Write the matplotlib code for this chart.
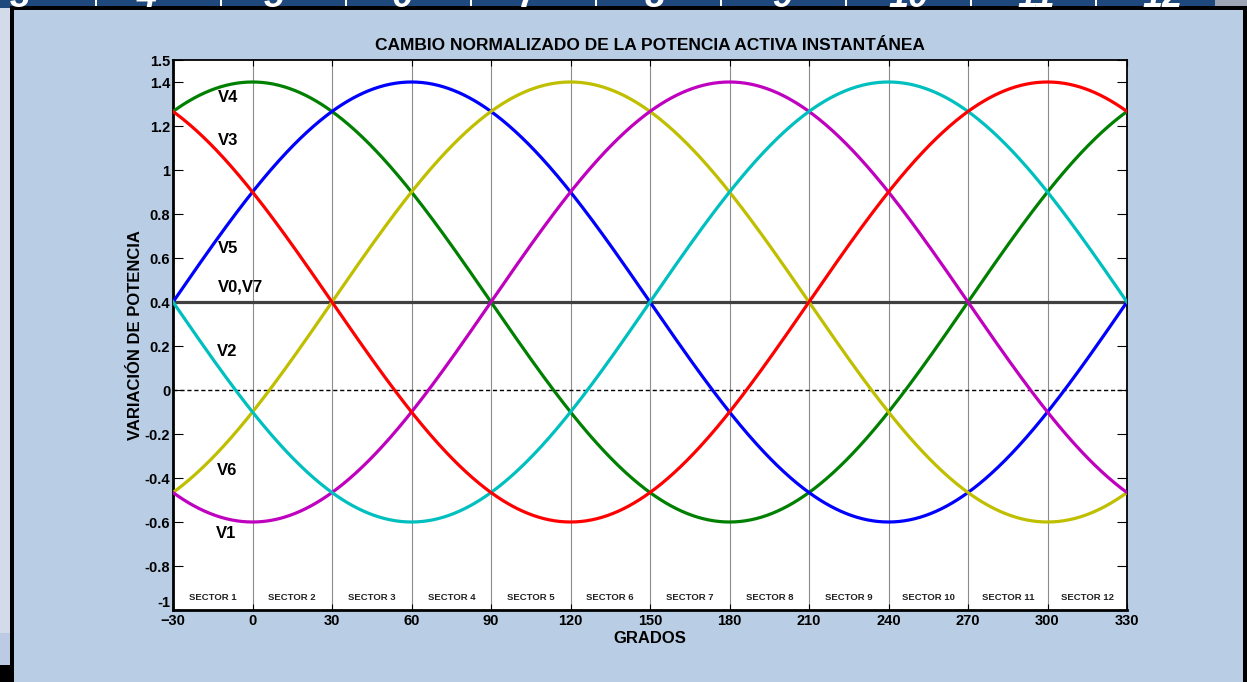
import numpy as np
import matplotlib.pyplot as plt
from matplotlib.patches import Rectangle

plt.rcParams['font.family'] = ['Liberation Sans', 'DejaVu Sans']
plt.rcParams['font.weight'] = 'bold'

# Switching vectors: label, colour, angle of maximum (deg), max and min of the curve
vectors = ["V4", "V5", "V6", "V1", "V2", "V3"]
colors = ["#008000", "#0000ff", "#bfbf00", "#bf00bf", "#00bfbf", "#ff0000"]
peak_deg = [0, 60, 120, 180, 240, 300]
p_max = 1.4
p_min = -0.6
p_zero_vectors = 0.4  # V0, V7

# Label positions (deg, value) for each curve name
label_names = ["V4", "V3", "V5", "V0,V7", "V2", "V6", "V1"]
label_x = [-13, -13, -13, -13, -13.5, -13.5, -14]
label_y = [1.33, 1.136, 0.645, 0.468, 0.177, -0.364, -0.65]

sector_edges = [-30, 0, 30, 60, 90, 120, 150, 180, 210, 240, 270, 300, 330]
sector_names = ["SECTOR %d" % (i + 1) for i in range(12)]
yticks = [-1, -0.8, -0.6, -0.4, -0.2, 0, 0.2, 0.4, 0.6, 0.8, 1, 1.2, 1.4, 1.5]
ytick_labels = ["-1", "-0.8", "-0.6", "-0.4", "-0.2", "0", "0.2", "0.4", "0.6",
                "0.8", "1", "1.2", "1.4", "1.5"]

W, H = 1247, 682
fig = plt.figure(figsize=(W / 100, H / 100), dpi=100)
fig.patch.set_facecolor("#d3dbea")


def px_rect(x0, y0, x1, y1, color):
    # rectangle in pixel coords, y measured from the top
    fig.patches.append(Rectangle((x0 / W, 1 - y1 / H), (x1 - x0) / W, (y1 - y0) / H,
                                 transform=fig.transFigure, facecolor=color,
                                 edgecolor="none", zorder=-5))


# slide strip along the top with column numbers
px_rect(0, 0, 1215, 8, "#1f497d")
px_rect(1215, 0, W, 8, "#9ea6b6")
for i, n in enumerate(range(3, 13)):
    cx = 20 + 127 * i
    fig.text(cx / W, 1 - 7 / H, str(n), color="white", fontsize=26,
             fontstyle="italic", ha="center", va="baseline", zorder=-4)
    sep = 95 + 125 * i
    if sep < 1215:
        px_rect(sep, 0, sep + 2, 6, "white")
px_rect(0, 633, 10, 665, "#bccbe3")
px_rect(0, 665, 10, H, "black")
# framed panel
px_rect(10, 6, W, H, "black")
px_rect(14, 10, 1243, H, "#b9cde4")

ax = fig.add_axes([173 / W, 1 - 610 / H, 954 / W, 550 / H])
ax.set_facecolor("white")

deg = np.linspace(-30, 330, 721)
mid = (p_max + p_min) / 2
half = (p_max - p_min) / 2
for name, c, pk in zip(vectors, colors, peak_deg):
    ax.plot(deg, mid + half * np.cos(np.radians(deg - pk)), color=c, lw=2.3, zorder=3)
ax.axhline(p_zero_vectors, color="#404040", lw=2.3, zorder=2)
ax.axhline(0, color="black", lw=1, ls=(0, (3, 2)), zorder=2)

for x in sector_edges[1:-1]:
    ax.axvline(x, color="#8c8c8c", lw=0.8, zorder=1)

for name, x, y in zip(label_names, label_x, label_y):
    ax.text(x, y, name, fontsize=12, fontweight="bold", ha="left", va="center", zorder=4)

for i, s in enumerate(sector_names):
    xc = (sector_edges[i] + sector_edges[i + 1]) / 2
    ax.text(xc, -0.945, s, fontsize=6.8, fontweight="bold", ha="center", va="center",
            color="#222222")

ax.set_xlim(-30, 330)
ax.set_ylim(-1, 1.5)
ax.set_xticks(sector_edges)
ax.set_yticks(yticks)
ax.set_yticklabels(ytick_labels)
ax.tick_params(axis="x", direction="in", length=4, top=True, labelsize=10.5, pad=3)
ax.tick_params(axis="y", direction="in", length=7, right=True, labelsize=10.5, pad=2)
for lab in ax.get_xticklabels() + ax.get_yticklabels():
    lab.set_fontweight("bold")
# keep "-1" clear of "-30" below it
ax.get_yticklabels()[0].set_va("bottom")
for sp in ax.spines.values():
    sp.set_linewidth(1.3)
ax.spines["left"].set_linewidth(2)
ax.spines["bottom"].set_linewidth(2)

ax.set_title("CAMBIO NORMALIZADO DE LA POTENCIA ACTIVA INSTANTÁNEA", fontsize=12.5,
             fontweight="bold", pad=7)
ax.set_xlabel("GRADOS", fontsize=12, fontweight="bold", labelpad=2)
ax.set_ylabel("VARIACIÓN DE POTENCIA", fontsize=12, fontweight="bold", labelpad=1)

fig.savefig("out.png", dpi=100)
